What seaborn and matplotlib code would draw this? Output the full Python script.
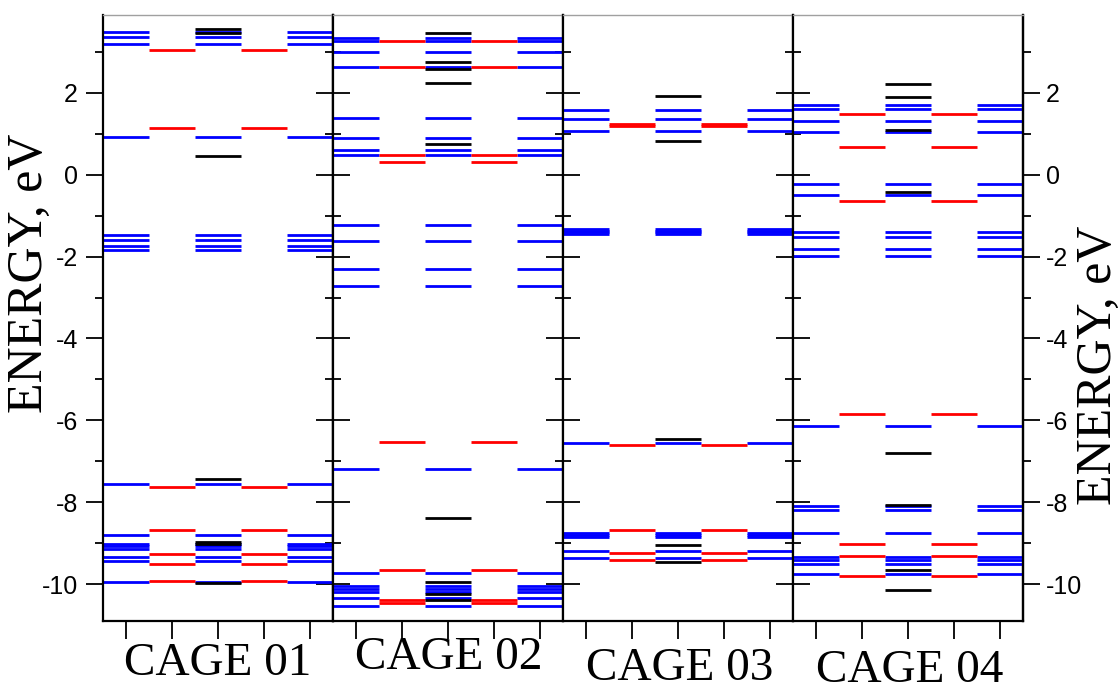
import matplotlib
matplotlib.use("Agg")
import matplotlib.pyplot as plt
import pandas as pd
import seaborn as sns
from matplotlib.ticker import MultipleLocator

# Energy levels (eV) for each cage: outer columns (blue), inner columns (red),
# and extra levels of the central column (black)
cages = ["CAGE 01", "CAGE 02", "CAGE 03", "CAGE 04"]

cage01_blue = [3.49, 3.35, 3.20, 0.91, -1.48, -1.59, -1.73, -1.85, -7.56, -8.80,
               -9.02, -9.08, -9.15, -9.33, -9.43, -9.94]
cage01_red = [3.04, 1.13, -7.62, -8.69, -9.27, -9.52, -9.93]
cage01_black = [3.56, 3.47, 0.45, -7.43, -8.97, -9.03, -9.98]

cage02_blue = [3.34, 3.27, 2.99, 2.62, 1.39, 0.90, 0.61, 0.47, -1.24, -1.61, -2.31,
               -2.73, -7.19, -9.73, -10.04, -10.12, -10.20, -10.34, -10.53]
cage02_red = [3.26, 2.63, 0.48, 0.31, -6.52, -9.65, -10.38, -10.46]
cage02_black = [3.46, 2.76, 2.57, 2.23, 0.74, -8.39, -9.96, -10.24, -10.38]

cage03_blue = [1.57, 1.35, 1.06, -1.33, -1.37, -1.41, -1.45, -6.55, -8.75, -8.80,
               -8.85, -9.20, -9.37]
cage03_red = [1.24, 1.20, -6.60, -8.67, -9.24, -9.42]
cage03_black = [1.92, 0.83, -6.46, -9.04, -9.45]

cage04_blue = [1.69, 1.61, 1.32, 1.05, -0.22, -0.49, -1.41, -1.53, -1.82, -1.98,
               -6.14, -8.09, -8.18, -8.75, -9.34, -9.42, -9.50, -9.75]
cage04_red = [1.49, 0.67, -0.64, -5.84, -9.02, -9.31, -9.80]
cage04_black = [2.22, 1.89, 1.09, -0.42, -6.79, -8.07, -9.65, -10.14]

levels = {
    "CAGE 01": {"blue": cage01_blue, "red": cage01_red, "black": cage01_black},
    "CAGE 02": {"blue": cage02_blue, "red": cage02_red, "black": cage02_black},
    "CAGE 03": {"blue": cage03_blue, "red": cage03_red, "black": cage03_black},
    "CAGE 04": {"blue": cage04_blue, "red": cage04_red, "black": cage04_black},
}

# column slots occupied by each kind of level inside a panel
slots = {"blue": [0, 2, 4], "red": [1, 3], "black": [2]}
colors = {"blue": "#0000ff", "red": "#ff0000", "black": "#000000"}

rows = []
seg = 0
for cage in cages:
    for kind, values in levels[cage].items():
        for e in values:
            for s in slots[kind]:
                rows.append((cage, kind, seg, s, e))
                rows.append((cage, kind, seg, s + 1, e))
                seg += 1
df = pd.DataFrame(rows, columns=["cage", "kind", "seg", "x", "energy"])

sns.set_style("ticks")
plt.rcParams["font.family"] = ["Liberation Sans", "DejaVu Sans"]
plt.rcParams["axes.unicode_minus"] = False
plt.rcParams["xtick.color"] = "black"
plt.rcParams["ytick.color"] = "black"
plt.rcParams["xtick.labelcolor"] = "black"
plt.rcParams["ytick.labelcolor"] = "black"

fig = plt.figure(figsize=(11.2, 7), dpi=100)
axes = fig.subplots(1, 4, sharey=True, gridspec_kw=dict(wspace=0))
fig.subplots_adjust(left=0.092, right=0.913, top=0.9786, bottom=0.1129)

tick_size = 18

for i, (ax, cage) in enumerate(zip(axes, cages)):
    sub = df[df["cage"] == cage]
    for kind in ["blue", "red", "black"]:
        part = sub[sub["kind"] == kind]
        sns.lineplot(data=part, x="x", y="energy", units="seg", estimator=None,
                     sort=False, color=colors[kind], linewidth=2.0,
                     solid_capstyle="butt", legend=False, ax=ax)
    ax.set_xlim(0, 5)
    ax.set_ylim(-10.9, 3.9)
    ax.set_xlabel("")
    ax.set_ylabel("")
    ax.set_xticks([0.5, 1.5, 2.5, 3.5, 4.5])
    ax.tick_params(axis="x", direction="out", length=13, width=1.3,
                   labelbottom=False, color="black")
    ax.yaxis.set_major_locator(MultipleLocator(2))
    ax.yaxis.set_minor_locator(MultipleLocator(1))
    for side in ["left", "right", "bottom"]:
        ax.spines[side].set_visible(True)
        ax.spines[side].set_color("black")
        ax.spines[side].set_linewidth(1.6)
    ax.spines["top"].set_visible(True)
    ax.spines["top"].set_color("#a0a0a0")
    ax.spines["top"].set_linewidth(1.0)

    if i == 0:
        ax.tick_params(axis="y", which="both", direction="out", left=True,
                       right=False, labelleft=True, width=1.3, pad=6,
                       labelsize=tick_size, colors="black")
        ax.tick_params(axis="y", which="major", length=12)
        ax.tick_params(axis="y", which="minor", length=6)
        sec = ax.secondary_yaxis("right")
        sec.yaxis.set_major_locator(MultipleLocator(2))
        sec.yaxis.set_minor_locator(MultipleLocator(1))
        sec.tick_params(which="both", direction="in", labelright=False, width=1.3,
                        colors="black")
        sec.tick_params(which="major", length=12)
        sec.tick_params(which="minor", length=6)
        sec.spines["right"].set_linewidth(1.6)
        sec.spines["right"].set_color("black")
    elif i == 3:
        ax.tick_params(axis="y", which="both", direction="in", left=True,
                       right=False, labelleft=False, width=1.3, colors="black")
        ax.tick_params(axis="y", which="major", length=12)
        ax.tick_params(axis="y", which="minor", length=6)
        sec = ax.secondary_yaxis("right")
        sec.yaxis.set_major_locator(MultipleLocator(2))
        sec.yaxis.set_minor_locator(MultipleLocator(1))
        sec.tick_params(which="both", direction="out", labelright=True,
                        width=1.3, pad=5, labelsize=tick_size, colors="black")
        sec.tick_params(which="major", length=12)
        sec.tick_params(which="minor", length=6)
        sec.spines["right"].set_linewidth(1.6)
        sec.spines["right"].set_color("black")
    else:
        ax.tick_params(axis="y", which="both", direction="in", left=True,
                       right=True, labelleft=False, width=1.3, colors="black")
        ax.tick_params(axis="y", which="major", length=12)
        ax.tick_params(axis="y", which="minor", length=6)

# panel names under the axis
cage_label_pos = [(218, 664), (449, 658), (680, 669), (910, 671)]
for name, (px, py) in zip(cages, cage_label_pos):
    fig.text(px / 1120, 1 - py / 700, name, ha="center", va="center",
             family=["Liberation Serif", "DejaVu Serif"], fontsize=34,
             color="black")

fig.text(30 / 1120, 1 - 273 / 700, "ENERGY, eV", rotation=90, ha="center",
         va="center", family=["Liberation Serif", "DejaVu Serif"], fontsize=36,
         color="black")
fig.text(1099 / 1120, 1 - 365 / 700, "ENERGY, eV", rotation=90, ha="center",
         va="center", family=["Liberation Serif", "DejaVu Serif"], fontsize=36,
         color="black")

fig.savefig("out.png", dpi=100, facecolor="white")
